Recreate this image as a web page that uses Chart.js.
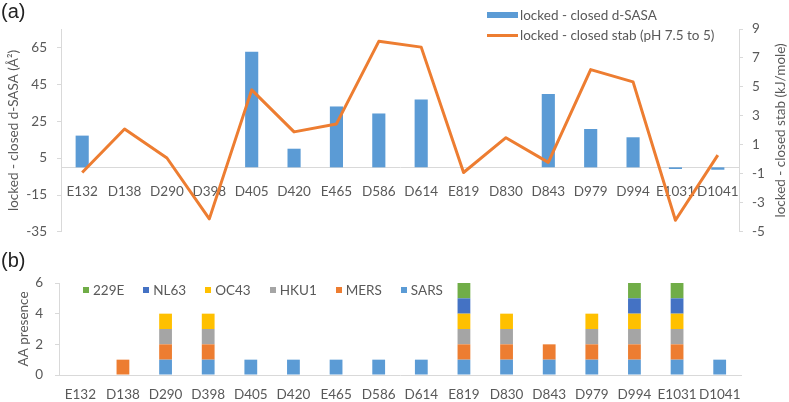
<!DOCTYPE html>
<html lang="en">
<head>
<meta charset="UTF-8">
<title>locked - closed d-SASA, stability and AA presence</title>
<script src="https://cdn.jsdelivr.net/npm/chart.js@4.4.0/dist/chart.umd.min.js"></script>
<style>
  body { margin: 0; background: #fff; font-family: Lato, sans-serif; color: #595959; }
  .wrap { position: relative; width: 789px; height: 402px; overflow: hidden; }
  canvas { position: absolute; left: 0; }
  #chartA { top: 0; }
  #chartB { top: 250px; }
  .panel { position: absolute; left: 1px; font: 20px "Liberation Sans", Arial, sans-serif; color: #222; }
  .legend { position: absolute; font-size: 13.5px; color: #595959; }
  .legend .item { display: flex; align-items: center; white-space: nowrap; }
  #legendA { left: 487px; top: 5px; }
  #legendA .item { height: 20px; }
  #legendA .sw { width: 31px; margin-right: 2px; }
  #legendB { left: 83px; top: 282px; display: flex; }
  #legendB .item { margin-right: 19px; }
  #legendB .sw { width: 6px; height: 6px; margin-right: 4px; }
</style>
</head>
<body>
<div class="wrap">
  <canvas id="chartA" width="789" height="250"></canvas>
  <canvas id="chartB" width="789" height="152"></canvas>
  <div class="panel" style="top:0px">(a)</div>
  <div class="panel" style="top:249px">(b)</div>
  <div class="legend" id="legendA"></div>
  <div class="legend" id="legendB"></div>
</div>
<script>
// residues on the x axis (both panels)
const residues = ['E132', 'D138', 'D290', 'D398', 'D405', 'D420', 'E465', 'D586',
                  'D614', 'E819', 'D830', 'D843', 'D979', 'D994', 'E1031', 'D1041'];

// panel (a)
const dSasa = [17.2, 0, 0, 0, 62.6, 10.1, 33, 29.2, 36.8, 0, 0, 39.8, 20.8, 16.3, -0.9, -1.3];
const stab = [-0.9, 2.1, 0.1, -4.1, 4.8, 1.9, 2.45, 8.15, 7.75, -0.9, 1.5, -0.2, 6.2, 5.35, -4.2, 0.3];
const sasaTicks = [-35, -15, 5, 25, 45, 65];
const stabTicks = [-5, -3, -1, 1, 3, 5, 7, 9];

// panel (b) - stacked presence, bottom to top
const sars = [0, 0, 1, 1, 1, 1, 1, 1, 1, 1, 1, 1, 1, 1, 1, 1];
const mers = [0, 1, 1, 1, 0, 0, 0, 0, 0, 1, 1, 1, 1, 1, 1, 0];
const hku1 = [0, 0, 1, 1, 0, 0, 0, 0, 0, 1, 1, 0, 1, 1, 1, 0];
const oc43 = [0, 0, 1, 1, 0, 0, 0, 0, 0, 1, 1, 0, 1, 1, 1, 0];
const nl63 = [0, 0, 0, 0, 0, 0, 0, 0, 0, 1, 0, 0, 0, 1, 1, 0];
const hcov229e = [0, 0, 0, 0, 0, 0, 0, 0, 0, 1, 0, 0, 0, 1, 1, 0];
const presenceTicks = [0, 2, 4, 6];

const txt = '#595959';
const axisGrey = '#d9d9d9';
const font = { family: 'Lato, sans-serif', size: 13.5 };

// right axis title reads bottom-to-top like the left one, so draw it by hand
const rightTitle = {
  id: 'rightTitle',
  afterDraw(chart, args, opts) {
    if (!opts.text) return;
    const { ctx, chartArea } = chart;
    ctx.save();
    ctx.translate(chart.width - opts.offset, (chartArea.top + chartArea.bottom) / 2);
    ctx.rotate(-Math.PI / 2);
    ctx.font = '13.5px Lato, sans-serif';
    ctx.fillStyle = txt;
    ctx.textAlign = 'center';
    ctx.textBaseline = 'middle';
    ctx.fillText(opts.text, 0, 0);
    ctx.restore();
  }
};

const sasaColor = '#5b9bd5';
const stabColor = '#ed7d31';

new Chart(document.getElementById('chartA'), {
  data: {
    labels: residues,
    datasets: [
      {
        type: 'line',
        label: 'locked - closed stab (pH 7.5 to 5)',
        data: stab,
        yAxisID: 'y1',
        borderColor: stabColor,
        borderWidth: 3,
        pointRadius: 0,
        tension: 0,
        borderJoinStyle: 'round'
      },
      {
        type: 'bar',
        label: 'locked - closed d-SASA',
        data: dSasa,
        yAxisID: 'y',
        backgroundColor: sasaColor,
        barPercentage: 0.31,
        categoryPercentage: 1
      }
    ]
  },
  options: {
    responsive: false,
    animation: false,
    layout: { padding: { top: 29, bottom: 14 } },
    plugins: {
      legend: { display: false },
      tooltip: { enabled: false },
      rightTitle: { text: 'locked - closed stab (kJ/mole)', offset: 8 }
    },
    scales: {
      x: {
        position: { y: 0 },
        grid: { display: false, drawTicks: false },
        border: { color: axisGrey },
        ticks: { color: txt, font: font, padding: 16, maxRotation: 0, autoSkip: false }
      },
      y: {
        position: 'left',
        min: -35, max: 75,
        afterBuildTicks: s => { s.ticks = sasaTicks.map(v => ({ value: v })); },
        afterFit: s => { s.width = 61; },
        grid: { drawOnChartArea: false, color: axisGrey, tickLength: 4 },
        border: { color: axisGrey },
        ticks: { color: txt, font: font, padding: 10 },
        title: { display: true, text: 'locked - closed d-SASA (Å²)', color: txt, font: font, padding: { top: 6, bottom: 0 } }
      },
      y1: {
        position: 'right',
        min: -5, max: 9,
        afterBuildTicks: s => { s.ticks = stabTicks.map(v => ({ value: v })); },
        afterFit: s => { s.width = 50; },
        grid: { drawOnChartArea: false, color: axisGrey, tickLength: 4 },
        border: { color: axisGrey },
        ticks: { color: txt, font: font, padding: 9 }
      }
    }
  },
  plugins: [rightTitle]
});

const presenceSets = [
  { label: 'SARS', data: sars, color: '#5b9bd5' },
  { label: 'MERS', data: mers, color: '#ed7d31' },
  { label: 'HKU1', data: hku1, color: '#a5a5a5' },
  { label: 'OC43', data: oc43, color: '#ffc000' },
  { label: 'NL63', data: nl63, color: '#4472c4' },
  { label: '229E', data: hcov229e, color: '#70ad47' }
];

new Chart(document.getElementById('chartB'), {
  type: 'bar',
  data: {
    labels: residues,
    datasets: presenceSets.map(d => ({
      label: d.label,
      data: d.data,
      backgroundColor: d.color,
      barPercentage: 0.3,
      categoryPercentage: 1
    }))
  },
  options: {
    responsive: false,
    animation: false,
    layout: { padding: { top: 33, right: 48 } },
    plugins: { legend: { display: false }, tooltip: { enabled: false } },
    scales: {
      x: {
        stacked: true,
        afterFit: s => { s.height = 27; },
        grid: { display: false, drawTicks: false },
        border: { color: axisGrey },
        ticks: { color: txt, font: font, padding: 12, maxRotation: 0, autoSkip: false }
      },
      y: {
        stacked: true,
        min: 0, max: 6,
        afterBuildTicks: s => { s.ticks = presenceTicks.map(v => ({ value: v })); },
        afterFit: s => { s.width = 59; },
        grid: { drawOnChartArea: false, color: axisGrey, tickLength: 4 },
        border: { color: axisGrey },
        ticks: { color: txt, font: font, padding: 12 },
        title: { display: true, text: 'AA presence', color: txt, font: font, padding: { top: 16, bottom: 0 } }
      }
    }
  }
});

// legends
const legendA = document.getElementById('legendA');
[
  { label: 'locked - closed d-SASA', color: sasaColor, h: 6 },
  { label: 'locked - closed stab (pH 7.5 to 5)', color: stabColor, h: 3 }
].forEach(it => {
  const row = document.createElement('div');
  row.className = 'item';
  row.innerHTML = '<span class="sw" style="height:' + it.h + 'px;background:' + it.color + '"></span>' + it.label;
  legendA.appendChild(row);
});

const legendB = document.getElementById('legendB');
presenceSets.slice().reverse().forEach(it => {
  const row = document.createElement('div');
  row.className = 'item';
  row.innerHTML = '<span class="sw" style="background:' + it.color + '"></span>' + it.label;
  legendB.appendChild(row);
});
</script>
</body>
</html>
